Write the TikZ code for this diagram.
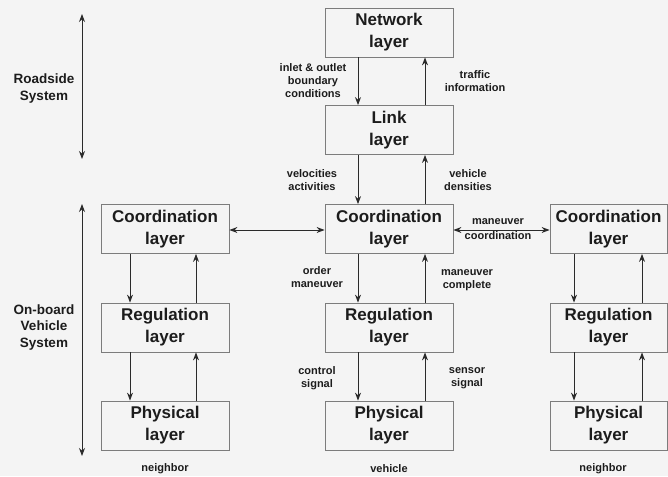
\documentclass[tikz,border=0pt]{standalone}
\usepackage{fontspec}
\setmainfont{Liberation Sans}
\usetikzlibrary{arrows.meta}
\definecolor{paper}{HTML}{F4F4F4}
\definecolor{boxline}{HTML}{7C7C7C}
\definecolor{ink}{HTML}{2A2A2A}
\definecolor{txt}{HTML}{1C1C1C}
\tikzset{
  layerbox/.style={draw=boxline, line width=0.8pt, fill=paper, minimum width=128pt,
    minimum height=49pt, inner sep=0pt, align=center, text=txt,
    font=\fontsize{17}{22}\selectfont\bfseries},
  sidebox/.style={layerbox, minimum width=117pt},
  tip/.style={Stealth[length=8pt,width=6pt]},
  flow/.style={draw=ink, line width=1pt, -{Stealth[length=8pt,width=6pt]}},
  twoway/.style={draw=ink, line width=1pt, {Stealth[length=8pt,width=6pt]}-{Stealth[length=8pt,width=6pt]}},
  lbl/.style={align=center, text=txt, inner sep=0pt, font=\fontsize{11}{13}\selectfont\bfseries},
  sidelbl/.style={align=center, text=txt, inner sep=0pt, font=\fontsize{13.5}{16.5}\selectfont\bfseries}
}
\begin{document}
\begin{tikzpicture}[x=1pt,y=-1pt]
  \fill[paper] (0,0) rectangle (668,476);
  \useasboundingbox (0,0) rectangle (668,476);

  % centre column
  \node[layerbox] (net)   at (389,32.5)  {Network\\layer};
  \node[layerbox] (link)  at (389,130)   {Link\\layer};
  \node[layerbox] (coord) at (389,229)   {Coordination\\layer};
  \node[layerbox] (reg)   at (389,327.5) {Regulation\\layer};
  \node[layerbox] (phys)  at (389,425.5) {Physical\\layer};

  % left neighbour
  \node[layerbox] (lcoord) at (165,229)   {Coordination\\layer};
  \node[layerbox] (lreg)   at (165,327.5) {Regulation\\layer};
  \node[layerbox] (lphys)  at (165,425.5) {Physical\\layer};

  % right neighbour
  \node[sidebox] (rcoord) at (608.5,229)   {Coordination\\layer};
  \node[sidebox] (rreg)   at (608.5,327.5) {Regulation\\layer};
  \node[sidebox] (rphys)  at (608.5,425.5) {Physical\\layer};

  % centre column flows
  \draw[flow] ([xshift=-31pt]net.south)   -- ([xshift=-31pt]link.north);
  \draw[flow] ([xshift=36pt]link.north)   -- ([xshift=36pt]net.south);
  \draw[flow] ([xshift=-31pt]link.south)  -- ([xshift=-31pt]coord.north);
  \draw[flow] ([xshift=36pt]coord.north)  -- ([xshift=36pt]link.south);
  \draw[flow] ([xshift=-31pt]coord.south) -- ([xshift=-31pt]reg.north);
  \draw[flow] ([xshift=36pt]reg.north)    -- ([xshift=36pt]coord.south);
  \draw[flow] ([xshift=-31pt]reg.south)   -- ([xshift=-31pt]phys.north);
  \draw[flow] ([xshift=36pt]phys.north)   -- ([xshift=36pt]reg.south);

  % left column flows
  \draw[flow] ([xshift=-35pt]lcoord.south) -- ([xshift=-35pt]lreg.north);
  \draw[flow] ([xshift=31pt]lreg.north)    -- ([xshift=31pt]lcoord.south);
  \draw[flow] ([xshift=-35pt]lreg.south)   -- ([xshift=-35pt]lphys.north);
  \draw[flow] ([xshift=31pt]lphys.north)   -- ([xshift=31pt]lreg.south);

  % right column flows
  \draw[flow] ([xshift=-34.5pt]rcoord.south) -- ([xshift=-34.5pt]rreg.north);
  \draw[flow] ([xshift=33.5pt]rreg.north)    -- ([xshift=33.5pt]rcoord.south);
  \draw[flow] ([xshift=-34.5pt]rreg.south)   -- ([xshift=-34.5pt]rphys.north);
  \draw[flow] ([xshift=33.5pt]rphys.north)   -- ([xshift=33.5pt]rreg.south);

  % coordination between vehicles
  \draw[twoway] ([yshift=-1pt]lcoord.east) -- ([yshift=-1pt]coord.west);
  \draw[twoway] ([yshift=-1pt]coord.east) -- ([yshift=-1pt]rcoord.west);

  % flow labels
  \node[lbl] (l1) at (313,81)    {inlet \& outlet\\boundary\\conditions};
  \node[lbl] (l2) at (475,81)    {traffic\\information};
  \node[lbl] (l3) at (312,180.5) {velocities\\activities};
  \node[lbl] (l4) at (468,180.5) {vehicle\\densities};
  \node[lbl, font=\fontsize{11}{15}\selectfont\bfseries] (l5) at (498,229.5) {maneuver\\coordination};
  \node[lbl] (l6) at (317,277.5) {order\\maneuver};
  \node[lbl] (l7) at (467,280)   {maneuver\\complete};
  \node[lbl] (l8) at (317,378)   {control\\signal};
  \node[lbl] (l9) at (467,378)   {sensor\\signal};

  \node[lbl] (n1) at (165,469)   {neighbor};
  \node[lbl] (n2) at (389,469)   {vehicle};
  \node[lbl] (n3) at (603,469)   {neighbor};

  % system extents
  \coordinate (rtop) at (82,14);
  \coordinate (rbot) at (82,159);
  \coordinate (otop) at (82,204);
  \coordinate (obot) at (82,456);
  \draw[twoway] (rtop) -- (rbot);
  \draw[twoway] (otop) -- (obot);
  \node[sidelbl] (s1) at (44,88.5)  {Roadside\\System};
  \node[sidelbl] (s2) at (44,327.5) {On-board\\Vehicle\\System};
\end{tikzpicture}
\end{document}
